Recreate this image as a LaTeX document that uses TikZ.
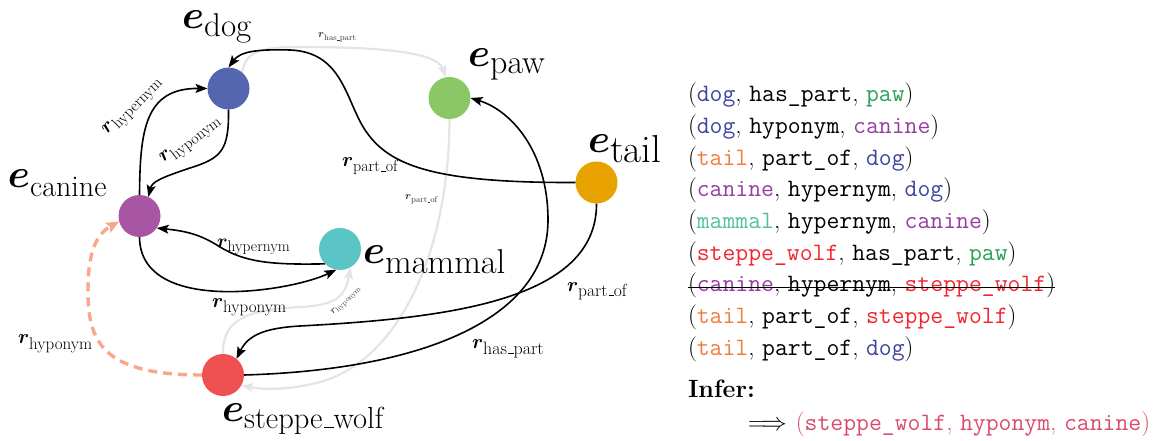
\RequirePackage{fix-cm}
\documentclass[tikz,border=0pt]{standalone}
\usepackage{amsmath}
\usetikzlibrary{arrows.meta,backgrounds}

% entity colours
\definecolor{cdog}{RGB}{85,102,176}
\definecolor{cpaw}{RGB}{140,199,102}
\definecolor{ctail}{RGB}{232,162,0}
\definecolor{ccanine}{RGB}{168,85,163}
\definecolor{cmammal}{RGB}{91,196,196}
\definecolor{csteppe}{RGB}{239,80,80}
\definecolor{edgegrey}{RGB}{228,228,228}
\definecolor{salmon}{RGB}{250,166,140}
% triple text colours
\definecolor{tdog}{RGB}{62,66,160}
\definecolor{tpaw}{RGB}{40,160,85}
\definecolor{tcanine}{RGB}{150,60,160}
\definecolor{ttail}{RGB}{244,123,59}
\definecolor{tmammal}{RGB}{85,192,154}
\definecolor{tsteppe}{RGB}{240,38,46}
\definecolor{tinfer}{RGB}{218,74,106}

% flat low bar used between words in the roman names
\newcommand{\lowbar}{\kern.06em\vbox{\hrule width .3em height .035em}}
% entity label: bold e with a lowered roman name
\newcommand{\entname}[3]{{\fontsize{40}{40}\selectfont$\boldsymbol{e}$}\raisebox{-#1pt}{\fontsize{#2}{#2}\selectfont #3}}
% relation label: bold r with a lowered roman name
\newcommand{\relname}[4]{{\fontsize{#1}{#1}\selectfont$\boldsymbol{r}$}\raisebox{-#3pt}{\fontsize{#2}{#2}\selectfont #4}}

\newcommand{\wdog}{\textcolor{tdog}{\texttt{dog}}}
\newcommand{\wpaw}{\textcolor{tpaw}{\texttt{paw}}}
\newcommand{\wtail}{\textcolor{ttail}{\texttt{tail}}}
\newcommand{\wcanine}{\textcolor{tcanine}{\texttt{canine}}}
\newcommand{\wmammal}{\textcolor{tmammal}{\texttt{mammal}}}
\newcommand{\wsteppe}{\textcolor{tsteppe}{\texttt{steppe\_wolf}}}

\tikzset{
  every node/.style={inner sep=0pt, outer sep=0pt},
  ent/.style={circle, minimum size=42pt, inner sep=0pt},
  tip/.style={-{Stealth[length=12pt,width=9pt,inset=2.5pt]}},
  rel/.style={tip, line width=1.6pt, draw=black},
  ghost/.style={tip, line width=2.2pt, draw=edgegrey},
  inferred/.style={line width=3.4pt, draw=salmon, dash pattern=on 9pt off 6pt,
    -{Stealth[length=13pt,width=11pt,inset=2.5pt]}},
  triple/.style={anchor=base west, font=\fontsize{25}{31.7}\selectfont},
  lab/.style={anchor=base west},
}

\begin{document}
\begin{tikzpicture}[x=1pt,y=-1pt]
\useasboundingbox (0,0) rectangle (1165,441);

% entities
\node[ent, fill=cdog]    (dog)    at (228.5,88.5) {};
\node[ent, fill=cpaw]    (paw)    at (449.5,98) {};
\node[ent, fill=ctail]   (tail)   at (596.5,182.5) {};
\node[ent, fill=ccanine] (canine) at (139.5,216) {};
\node[ent, fill=cmammal] (mammal) at (340,249) {};
\node[ent, fill=csteppe] (steppe) at (223,375) {};

\begin{pgfonlayer}{background}
  % faint context edges
  \draw[ghost] (dog.50) .. controls (246,52) and (258,47) .. (300,47)
               .. controls (400,47) and (438,55) .. (paw.100);
  \draw[ghost] (paw.south) .. controls (449,250) and (400,360) .. (320,382)
               .. controls (290,390) and (265,390) .. (steppe.-30);
  \draw[ghost] (steppe.north) .. controls (222,318) and (250,310) .. (300,307)
               .. controls (335,305) and (345,298) .. (mammal.-60);
  % known relations
  \draw[rel] (tail.west) .. controls (430,183) and (385,165) .. (362,125)
             .. controls (345,95) and (340,52) .. (290,50)
             .. controls (255,49) and (240,52) .. (dog.north);
  \draw[rel] (dog.south) .. controls (229,150) and (222,158) .. (190,168)
             .. controls (160,178) and (152,182) .. (canine.65);
  \draw[rel] (canine.north) .. controls (140,130) and (145,88) .. (dog.west);
  \draw[rel] (mammal.225) .. controls (270,265) and (245,262) .. (220,247)
             .. controls (200,234) and (185,231) .. (canine.-35);
  \draw[rel] (canine.south) .. controls (140,315) and (290,292) .. (mammal.-100);
  \draw[rel] (tail.south) .. controls (597,300) and (450,318) .. (300,326)
             .. controls (265,328) and (248,335) .. (steppe.50);
  \draw[rel] (steppe.east) .. controls (420,370) and (548,320) .. (548,220)
             .. controls (548,150) and (510,110) .. (paw.east);
  % inferred relation
  \draw[inferred] (steppe.west) .. controls (100,375) and (88,340) .. (88,290)
             .. controls (88,255) and (95,235) .. (canine.195);
\end{pgfonlayer}

% entity labels
\node[lab] (ldog)    at (182,29)  {\entname{8}{33}{dog}};
\node[lab] (lpaw)    at (468,67)  {\entname{7}{34}{paw}};
\node[lab] (ltail)   at (588,153) {\entname{10}{39}{tail}};
\node[lab] (lcanine) at (8,188)   {\entname{9}{30}{canine}};
\node[lab] (lmammal) at (363,263) {\entname{10}{34.5}{mammal}};
\node[lab] (lsteppe) at (222,421) {\entname{7}{30.5}{steppe\lowbar wolf}};

% relation labels
\node[lab] (rpo1) at (342,167) {\relname{20}{16}{5}{part\lowbar of}};
\node[lab] (rpo2) at (567,291) {\relname{20}{17.5}{5}{part\lowbar of}};
\node[lab] (rhp1) at (472,348) {\relname{20}{18}{6}{has\lowbar part}};
\node[lab] (rhy1) at (217,247) {\relname{19}{15.5}{5}{hypernym}};
\node[lab] (rho1) at (212,307) {\relname{20}{17}{5}{hyponym}};
\node[lab] (rho2) at (18,343)  {\relname{20}{17}{6}{hyponym}};
\node[rotate=46] (rhy2) at (133,107) {\relname{20}{16}{5}{hypernym}};
\node[rotate=38] (rho3) at (191,141) {\relname{20}{16}{5}{hyponym}};
% small labels of the faint edges
\node[lab, text=black!80] (rhp2) at (318,38)  {\relname{11}{8.5}{2.5}{has\lowbar part}};
\node[lab, text=black!80] (rpo3) at (405,200) {\relname{11}{8.5}{2.5}{part\lowbar of}};
\node[rotate=45, text=black!70] (rho4) at (346,301) {\relname{10}{7.5}{2}{hyponym}};

% triples
\node[triple] (t1) at (688,101.7) {(\wdog, \texttt{has\_part}, \wpaw)};
\node[triple] (t2) at (688,133.4) {(\wdog, \texttt{hyponym}, \wcanine)};
\node[triple] (t3) at (688,165.1) {(\wtail, \texttt{part\_of}, \wdog)};
\node[triple] (t4) at (688,196.8) {(\wcanine, \texttt{hypernym}, \wdog)};
\node[triple] (t5) at (688,228.5) {(\wmammal, \texttt{hypernym}, \wcanine)};
\node[triple] (t6) at (688,260.2) {(\wsteppe, \texttt{has\_part}, \wpaw)};
\node[triple] (t7) at (688,291.9) {(\wcanine, \texttt{hypernym}, \wsteppe)};
\draw[line width=1.3pt] ([yshift=4.5pt]t7.base west) -- ([yshift=4.5pt]t7.base east);
\node[triple] (t8) at (688,323.6) {(\wtail, \texttt{part\_of}, \wsteppe)};
\node[triple] (t9) at (688,355.3) {(\wtail, \texttt{part\_of}, \wdog)};
\node[triple] (infer) at (688,397) {\textbf{Infer:}};
\node[triple] (result) at (748,430) {$\Longrightarrow$\hspace{9pt}\textcolor{tinfer}{(\texttt{steppe\_wolf}, \texttt{hyponym}, \texttt{canine})}};
\end{tikzpicture}
\end{document}
